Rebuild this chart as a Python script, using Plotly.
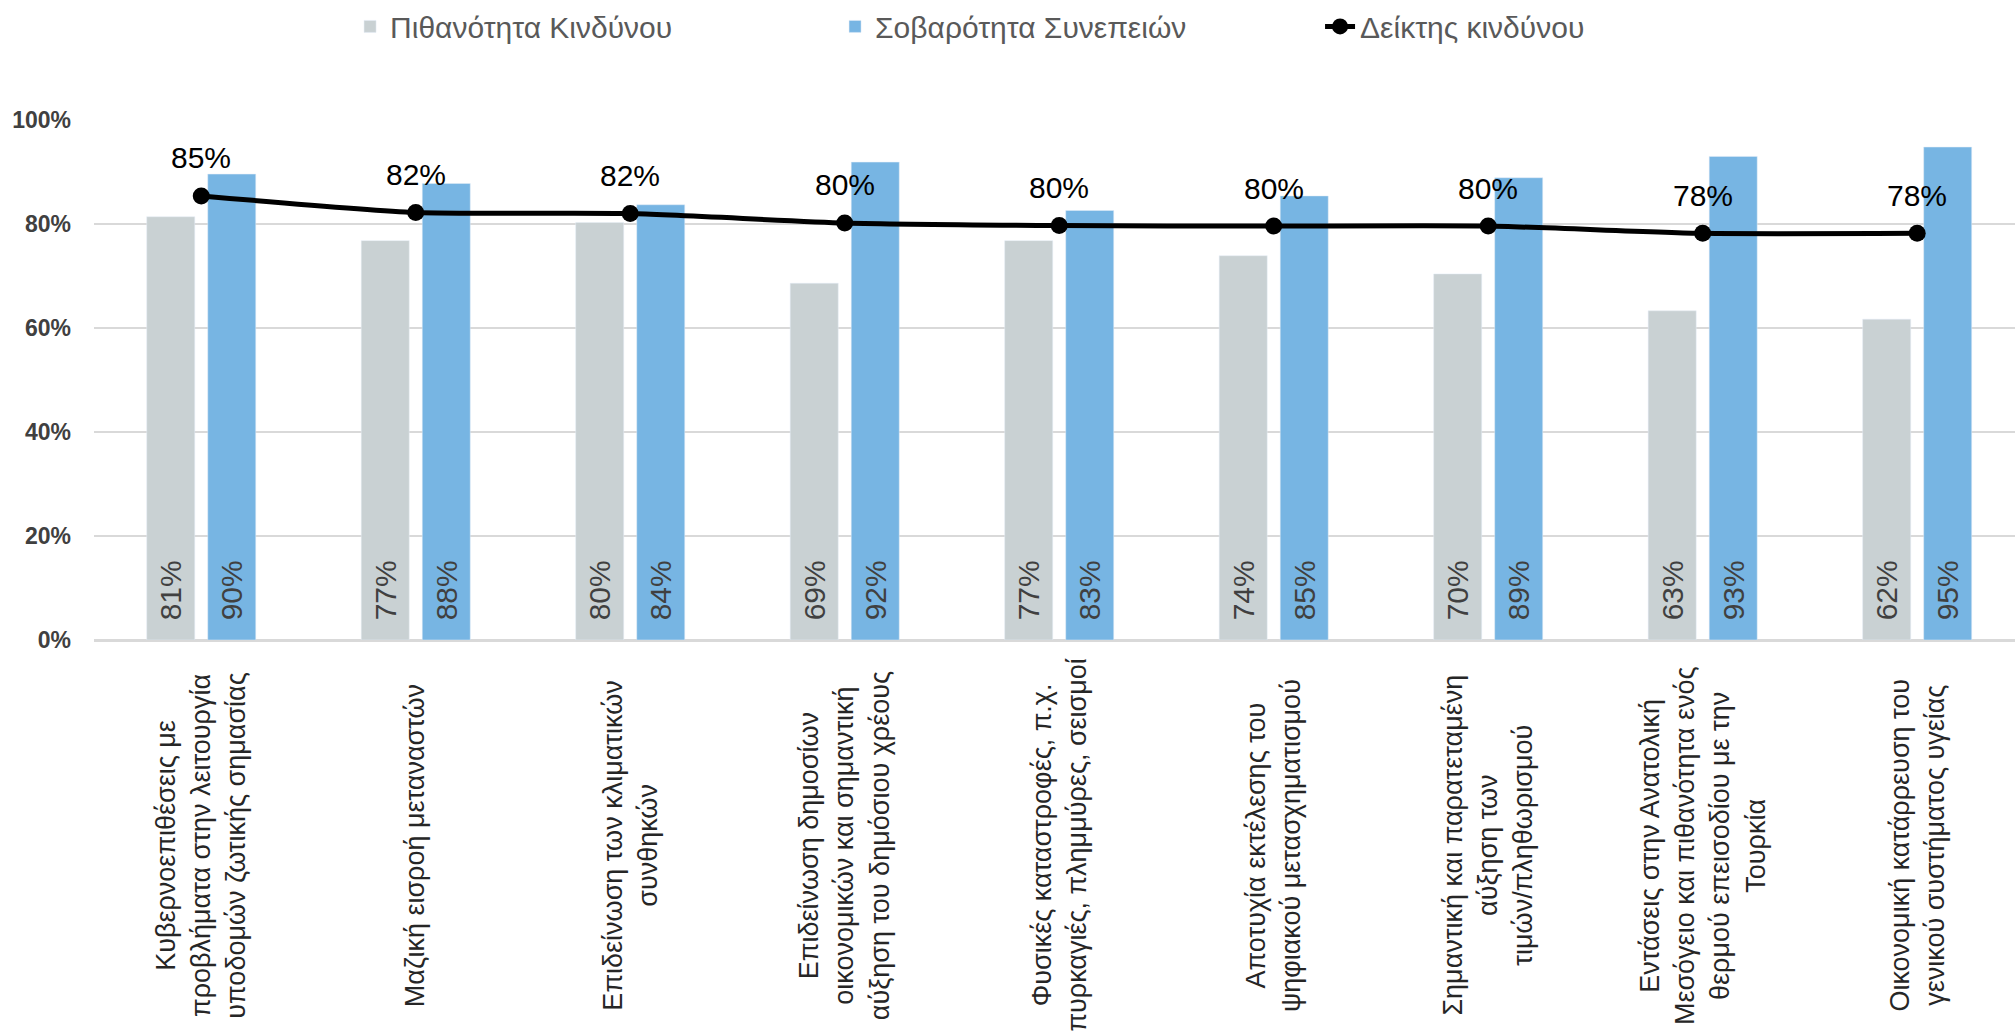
import plotly.graph_objects as go

categories = [
    "Κυβερνοεπιθέσεις με<br>προβλήματα στην λειτουργία<br>υποδομών ζωτικής σημασίας",
    "Μαζική εισροή μεταναστών",
    "Επιδείνωση των κλιματικών<br>συνθηκών",
    "Επιδείνωση δημοσίων<br>οικονομικών και σημαντική<br>αύξηση του δημόσιου χρέους",
    "Φυσικές καταστροφές, π.χ.<br>πυρκαγιές, πλημμύρες, σεισμοί",
    "Αποτυχία εκτέλεσης του<br>ψηφιακού μετασχηματισμού",
    "Σημαντική και παρατεταμένη<br>αύξηση των<br>τιμών/πληθωρισμού",
    "Εντάσεις στην Ανατολική<br>Μεσόγειο και πιθανότητα ενός<br>θερμού επεισοδίου με την<br>Τουρκία",
    "Οικονομική κατάρρευση του<br>γενικού συστήματος υγείας",
]
probability = [81.4, 76.8, 80.3, 68.6, 76.8, 73.9, 70.4, 63.3, 61.7]
severity = [89.6, 87.8, 83.7, 91.9, 82.6, 85.4, 88.9, 93.0, 94.8]
risk_index = [85.4, 82.2, 82.0, 80.2, 79.7, 79.6, 79.6, 78.2, 78.2]

series_names = ["Πιθανότητα Κινδύνου", "Σοβαρότητα Συνεπειών", "Δείκτης κινδύνου"]
y_ticks = [0, 20, 40, 60, 80, 100]
y_tick_labels = ["0%", "20%", "40%", "60%", "80%", "100%"]

GREY = "#C9D1D3"
BLUE = "#77B5E3"
FONT = "Liberation Sans"

x = list(range(len(categories)))

fig = go.Figure()
fig.add_trace(go.Bar(
    x=x, y=probability, name=series_names[0], marker_color=GREY,
    texttemplate="\u00a0\u00a0%{y:.0f}%", textposition="inside", insidetextanchor="start",
    textangle=-90, textfont=dict(family=FONT, size=30, color="#404040"),
    constraintext="none", hoverinfo="skip",
))
fig.add_trace(go.Bar(
    x=x, y=severity, name=series_names[1], marker_color=BLUE,
    texttemplate="\u00a0\u00a0%{y:.0f}%", textposition="inside", insidetextanchor="start",
    textangle=-90, textfont=dict(family=FONT, size=30, color="#404040"),
    constraintext="none", hoverinfo="skip",
))
fig.add_trace(go.Scatter(
    x=x, y=risk_index, name=series_names[2], mode="lines+markers",
    line=dict(color="black", width=5, shape="spline", smoothing=0.6),
    marker=dict(color="black", size=17),
    hoverinfo="skip",
))

annotations = []
for xi, v in zip(x, risk_index):
    annotations.append(dict(
        x=xi, y=v, xref="x", yref="y", text=f"{round(v)}%", showarrow=False,
        yshift=38, font=dict(family=FONT, size=30, color="black"),
        xanchor="center", yanchor="middle",
    ))
for xi, lab in zip(x, categories):
    annotations.append(dict(
        x=xi, y=-0.395, xref="x", yref="paper", text=lab, showarrow=False,
        textangle=-90, align="center", xanchor="center", yanchor="middle",
        font=dict(family=FONT, size=27, color="#262626"),
    ))

fig.update_layout(
    width=2015, height=1036,
    margin=dict(l=94, r=0, t=117, b=396, pad=0),
    paper_bgcolor="white", plot_bgcolor="white",
    barmode="group", bargap=0.431, bargroupgap=0.213,
    font=dict(family=FONT),
    showlegend=True,
    legend=dict(
        orientation="h", x=0.512, xanchor="center", y=1.18, yanchor="middle",
        font=dict(family=FONT, size=30, color="#595959"),
        entrywidth=440, entrywidthmode="pixels",
        traceorder="normal",
    ),
    annotations=annotations,
    xaxis=dict(
        range=[-0.5, 8.456], showticklabels=False, showgrid=False,
        zeroline=False, showline=False, ticks="", tickvals=x,
    ),
    yaxis=dict(
        range=[0, 100], tickvals=y_ticks, ticktext=y_tick_labels,
        showgrid=True, gridcolor="#D9D9D9", gridwidth=2,
        zeroline=True, zerolinecolor="#D9D9D9", zerolinewidth=3,
        showline=False, ticks="", ticklabelstandoff=22,
        tickfont=dict(family=FONT, size=23, color="#404040", weight="bold"),
    ),
)

fig.write_html(
    "out.html",
    config={"displayModeBar": False},
    post_script="document.body.style.margin='0';document.body.style.overflow='hidden';",
)
